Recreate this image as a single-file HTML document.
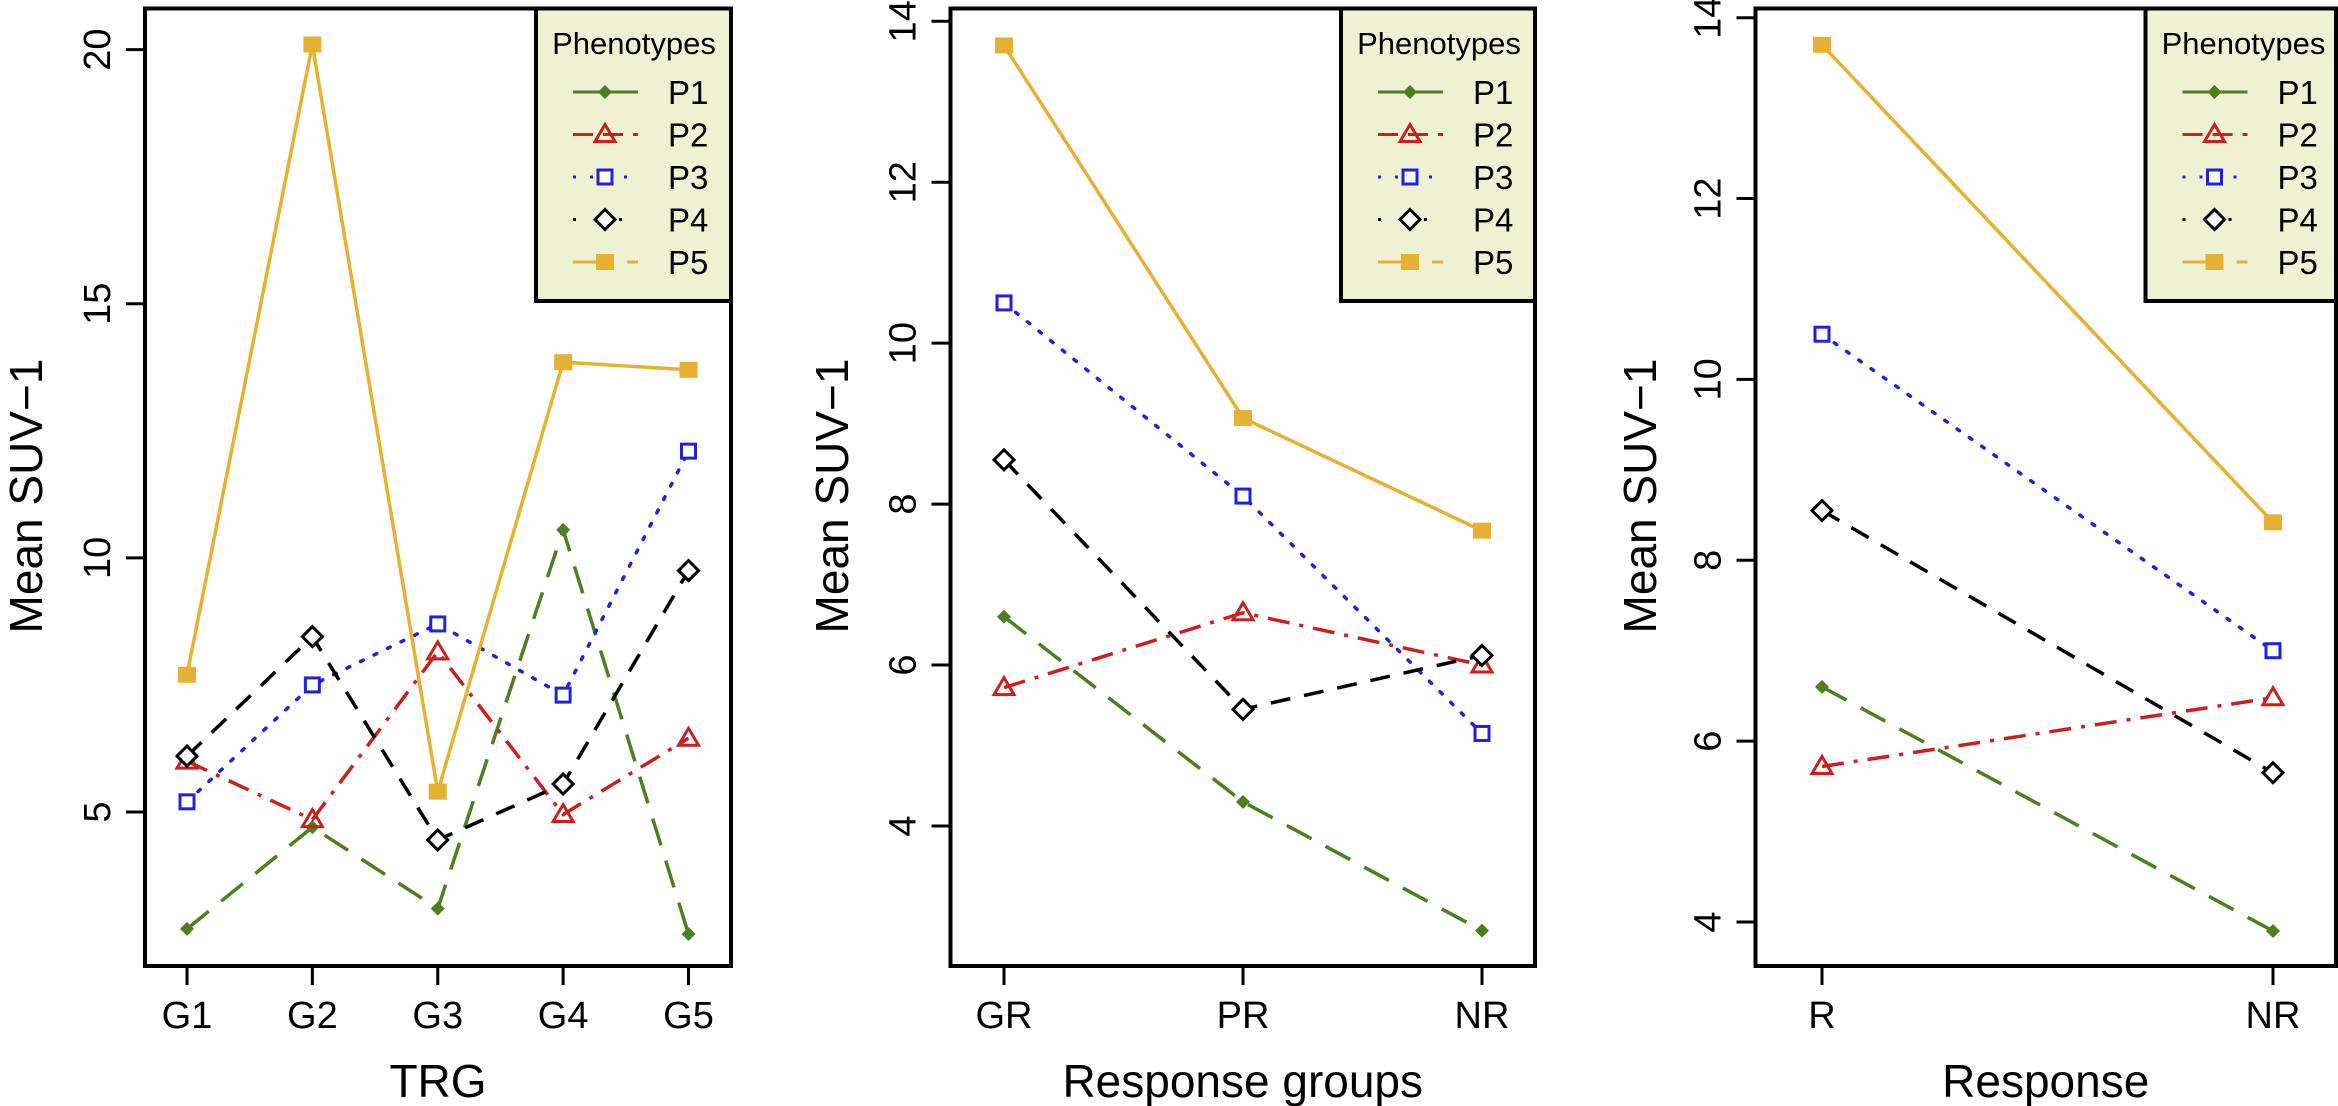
<!DOCTYPE html>
<html><head><meta charset="utf-8"><style>
html,body{margin:0;padding:0;background:#fff;}
svg{display:block;font-family:"Liberation Sans",Arial,sans-serif;}
</style></head><body>
<svg id="chart" width="2338" height="1106" viewBox="0 0 2338 1106" xmlns="http://www.w3.org/2000/svg"></svg>
<script>
const seriesNames = ["P1","P2","P3","P4","P5"];
const trgCategories = ["G1","G2","G3","G4","G5"];
const trgP1 = [2.7, 4.7, 3.1, 10.55, 2.6];
const trgP2 = [6.0, 4.85, 8.15, 4.95, 6.45];
const trgP3 = [5.2, 7.5, 8.7, 7.3, 12.1];
const trgP4 = [6.1, 8.45, 4.45, 5.55, 9.75];
const trgP5 = [7.7, 20.1, 5.4, 13.85, 13.7];
const trgTicks = [5, 10, 15, 20];
const grpCategories = ["GR","PR","NR"];
const grpP1 = [6.6, 4.3, 2.7];
const grpP2 = [5.72, 6.65, 6.0];
const grpP3 = [10.5, 8.1, 5.15];
const grpP4 = [8.55, 5.45, 6.12];
const grpP5 = [13.7, 9.07, 7.67];
const grpTicks = [4, 6, 8, 10, 12, 14];
const respCategories = ["R","NR"];
const respP1 = [6.6, 3.9];
const respP2 = [5.72, 6.48];
const respP3 = [10.5, 7.0];
const respP4 = [8.55, 5.65];
const respP5 = [13.7, 8.42];
const respTicks = [4, 6, 8, 10, 12, 14];

const NS = "http://www.w3.org/2000/svg";
const svg = document.getElementById("chart");
const styles = [
  {color:"#4b7f1f", dash:"28,16", marker:"dot"},
  {color:"#cc2020", dash:"22,10,4,10", marker:"tri"},
  {color:"#2020dd", dash:"3,12", marker:"sq"},
  {color:"#000000", dash:"20,14", marker:"dia"},
  {color:"#e6b033", dash:"", marker:"fsq"}
];
function mk(tag, attrs, parent){
  const e = document.createElementNS(NS, tag);
  for (const k in attrs) e.setAttribute(k, attrs[k]);
  (parent||svg).appendChild(e);
  return e;
}
function marker(g, type, x, y, color){
  let e;
  if (type==="dot") e = mk("path",{d:`M${x} ${y-7}L${x+7} ${y}L${x} ${y+7}L${x-7} ${y}Z`,fill:color},g);
  else if (type==="tri") e = mk("path",{d:`M${x} ${y-10}L${x+10} ${y+7}L${x-10} ${y+7}Z`,fill:"none",stroke:color,"stroke-width":3},g);
  else if (type==="sq") e = mk("rect",{x:x-7,y:y-7,width:14,height:14,fill:"#fff",stroke:color,"stroke-width":3},g);
  else if (type==="dia") e = mk("path",{d:`M${x} ${y-10}L${x+10} ${y}L${x} ${y+10}L${x-10} ${y}Z`,fill:"#fff",stroke:color,"stroke-width":3},g);
  else e = mk("rect",{x:x-9,y:y-8,width:18,height:16,fill:color},g);
  return e;
}
function panel(p){
  const g = mk("g",{});
  
  
  const xs = i => p.x0 + (p.x1 - p.x0) * i / (p.cats.length - 1);
  const ys = v => p.yA - (v - p.vA) * (p.yA - p.yB) / (p.vB - p.vA);
  // series
  p.series.forEach((vals, si) => {
    const st = styles[si];
    const sg = mk("g",{},g);
    
    
    const pts = vals.map((v,i)=>xs(i)+","+ys(v)).join(" ");
    const pl = mk("polyline",{points:pts,fill:"none",stroke:st.color,"stroke-width":3.5,"stroke-dasharray":st.dash,"stroke-linecap":st.marker==="sq"?"round":"butt"},sg);
    
    
    vals.forEach((v,i)=>{
      const m = marker(sg, st.marker, xs(i), ys(v), st.color);
      
      
    });
  });
  // box
  const box = mk("rect",{x:p.bl,y:p.bt,width:p.br-p.bl,height:p.bb-p.bt,fill:"none",stroke:"#000","stroke-width":4},g);
  
  
  // x axis
  p.cats.forEach((c,i)=>{
    mk("line",{x1:xs(i),x2:xs(i),y1:p.bb,y2:p.bb+19,stroke:"#000","stroke-width":3},g);
    const t = mk("text",{x:xs(i),y:p.bb+62,"text-anchor":"middle","font-size":38},g);
    t.textContent = c;
    
    
  });
  // y axis
  p.ticks.forEach(v=>{
    mk("line",{x1:p.bl,x2:p.bl-19,y1:ys(v),y2:ys(v),stroke:"#000","stroke-width":3},g);
    const t = mk("text",{x:0,y:0,"text-anchor":"middle","font-size":38,transform:`translate(${p.bl-35},${ys(v)}) rotate(-90)`},g);
    t.textContent = v;
    
    
  });
  const yt = mk("text",{x:0,y:0,"text-anchor":"middle","font-size":46,transform:`translate(${p.ytx},496) rotate(-90)`},g);
  yt.textContent = "Mean SUV\u22121";
  
  
  const xt = mk("text",{x:(p.bl+p.br)/2,y:1097,"text-anchor":"middle","font-size":46},g);
  xt.textContent = p.xtitle;
  
  
  // legend
  const lg = mk("g",{},g);
  
  
  mk("rect",{x:p.lx,y:p.bt,width:p.br-p.lx,height:301-p.bt,fill:"#eff2d2",stroke:"#000","stroke-width":4},lg);
  const lt = mk("text",{x:p.lx+98,y:54,"text-anchor":"middle","font-size":31},lg);
  lt.textContent = "Phenotypes";
  
  
  const legDash = ["","20,10","3,14","3,20","40,14,20,0"];
  seriesNames.forEach((n,si)=>{
    const st = styles[si];
    const y = 92 + si*42.5;
    const eg = mk("g",{},lg);
    
    
    mk("line",{x1:p.lx+37,x2:p.lx+102,y1:y,y2:y,stroke:st.color,"stroke-width":3,"stroke-dasharray":legDash[si]},eg);
    marker(eg, st.marker, p.lx+69, y, st.color);
    const tx = mk("text",{x:p.lx+132,y:y+12,"font-size":33},eg);
    tx.textContent = n;
  });
}
panel({name:"trg-panel",cats:trgCategories,series:[trgP1,trgP2,trgP3,trgP4,trgP5],ticks:trgTicks,
  x0:187,x1:688.5,yA:812,vA:5,yB:49.6,vB:20,bl:145,br:731,bt:8.5,bb:966,lx:536,ytx:42,xtitle:"TRG"});
panel({name:"response-groups-panel",cats:grpCategories,series:[grpP1,grpP2,grpP3,grpP4,grpP5],ticks:grpTicks,
  x0:1004,x1:1482,yA:826,vA:4,yB:21.3,vB:14,bl:950.5,br:1535,bt:8.5,bb:966,lx:1341,ytx:848,xtitle:"Response groups"});
panel({name:"response-panel",cats:respCategories,series:[respP1,respP2,respP3,respP4,respP5],ticks:respTicks,
  x0:1822,x1:2273,yA:922,vA:4,yB:17.7,vB:14,bl:1755.5,br:2336,bt:8.5,bb:966,lx:2145.5,ytx:1656,xtitle:"Response"});
</script>
</body></html>
